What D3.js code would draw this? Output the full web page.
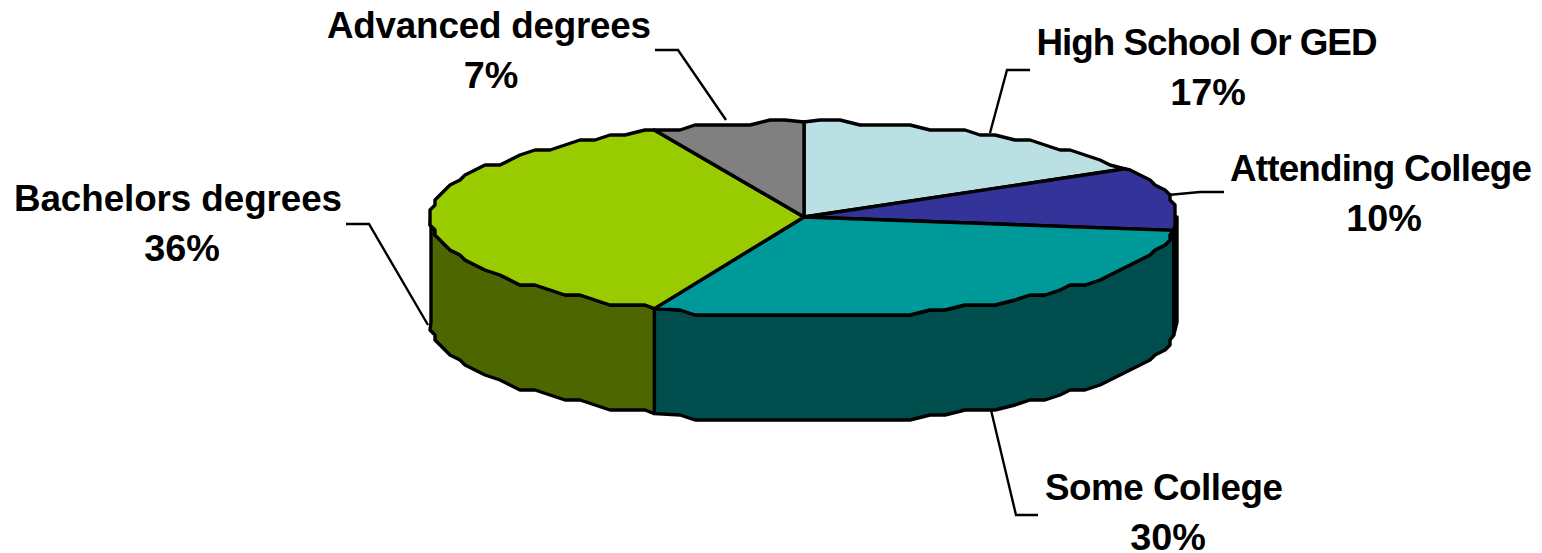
<!DOCTYPE html>
<html>
<head>
<meta charset="utf-8">
<script src="https://cdn.jsdelivr.net/npm/d3@7/dist/d3.min.js"></script>
<style>
  html, body { margin: 0; padding: 0; background: white; }
  svg { display: block; }
  text { font-family: "Liberation Sans", Arial, sans-serif; font-weight: bold; fill: black; }
</style>
</head>
<body>
<svg id="chart"></svg>
<script>
// Education levels, clockwise from 12 o'clock
var categories = ["High School Or GED", "Attending College", "Some College", "Bachelors degrees", "Advanced degrees"];
var shares = [17, 10, 30, 36, 7];
var topColors = ["#BBE0E3", "#333399", "#009999", "#99CC00", "#808080"];
var sideColors = ["#5E7072", "#1A1A4D", "#004D4D", "#4D6600", "#404040"];

var w = 1542, h = 553;
var depth = 105;
var fontSize = 36.8, percentSize = 37.8, lineGap = 50;

var svg = d3.select("#chart").attr("width", w).attr("height", h);

// Flattened pie: unit circle mapped on to an ellipse, front half a bit deeper
var xScale = d3.scaleLinear().domain([-1, 1]).range([431, 1177]);
var yScale = d3.scaleLinear().domain([-1, 0, 1]).range([122, 217, 317]);

var pie = d3.pie().sort(null).value(function(d) { return d; })
    .startAngle(0).endAngle(2 * Math.PI);
var slices = pie(shares);

// Original has some perspective, slice edges lean slightly
function warp(a) {
    return a - 0.035 * Math.sin(2 * a);
}
function exact(a) {
    var b = warp(a);
    return [xScale(Math.sin(b)), yScale(-Math.cos(b))];
}
// The original outline is coarse, so snap rim points to a rough grid
function rim(a) {
    var p = exact(a);
    return [Math.round(p[0] / 5) * 5, Math.round(p[1] / 5) * 5];
}
// Same angle steps for every slice so top rim and wall rim line up
var rimStep = 3 * Math.PI / 180;
function rimPoints(a0, a1) {
    var pts = [exact(a0)];
    for (var k = Math.floor(a0 / rimStep + 1.5); (k + 0.5) * rimStep < a1; k++) {
        pts.push(rim(k * rimStep));
    }
    pts.push(exact(a1));
    return pts;
}
var line = d3.line();

// Side walls, only the front half of the disc shows
var wallFrom = Math.PI / 2, wallTo = 3 * Math.PI / 2;
svg.append("g").selectAll("path")
    .data(slices.filter(function(d) { return d.endAngle > wallFrom && d.startAngle < wallTo; }))
    .enter()
    .append("path")
    .attr("d", function(d) {
        var pts = rimPoints(Math.max(d.startAngle, wallFrom), Math.min(d.endAngle, wallTo));
        var lower = pts.map(function(p) { return [p[0], p[1] + depth]; }).reverse();
        return line(pts.concat(lower)) + "Z";
    })
    .style("fill", function(d) { return sideColors[d.index]; })
    .style("stroke", "black")
    .style("stroke-width", 3.4)
    .style("stroke-linejoin", "round");

// Top face
svg.append("g").selectAll("path")
    .data(slices)
    .enter()
    .append("path")
    .attr("d", function(d) {
        var pts = rimPoints(d.startAngle, d.endAngle);
        pts.unshift([xScale(0), yScale(0)]);
        return line(pts) + "Z";
    })
    .style("fill", function(d) { return topColors[d.index]; })
    .style("stroke", "black")
    .style("stroke-width", 3.4)
    .style("stroke-linejoin", "round");

// Labels and their leader lines, same order as categories
// len = width of the name as measured on the picture, px = centre of the percent line
var labelSpots = [
    { x: 1207, y: 55, len: 341, px: 1208, leader: [[990, 133], [1007, 70], [1030, 70]] },
    { x: 1381, y: 181, len: 302, px: 1384, leader: [[1168, 195], [1200, 192], [1224, 192]] },
    { x: 1164, y: 500, len: 238, px: 1168, leader: [[991, 410], [1016, 515], [1038, 515]] },
    { x: 178, y: 211, len: 328, px: 182, leader: [[428, 325], [369, 224], [346, 224]] },
    { x: 489, y: 38, len: 324, px: 491, leader: [[726, 120], [678, 50], [655, 50]] }
];

svg.append("g").selectAll("path")
    .data(labelSpots)
    .enter()
    .append("path")
    .attr("d", function(d) { return line(d.leader); })
    .style("fill", "none")
    .style("stroke", "black")
    .style("stroke-width", 2.4);

var labels = svg.append("g").selectAll("text")
    .data(labelSpots)
    .enter()
    .append("text")
    .attr("text-anchor", "middle")
    .style("font-size", fontSize + "px");

labels.append("tspan")
    .attr("x", function(d) { return d.x; })
    .attr("y", function(d) { return d.y; })
    .attr("textLength", function(d) { return d.len; })
    .attr("lengthAdjust", "spacing")
    .text(function(d, i) { return categories[i]; });
labels.append("tspan")
    .attr("x", function(d) { return d.px; })
    .attr("y", function(d) { return d.y + lineGap; })
    .style("font-size", percentSize + "px")
    .text(function(d, i) { return shares[i] + "%"; });
</script>
</body>
</html>
